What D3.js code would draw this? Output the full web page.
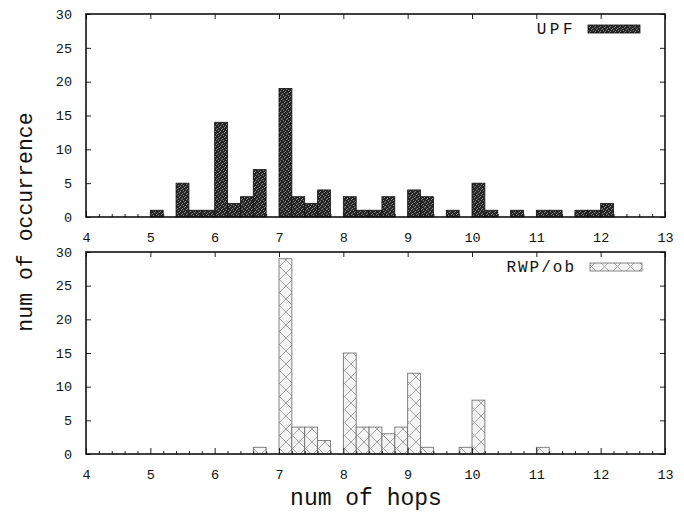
<!DOCTYPE html>
<html>
<head>
<meta charset="utf-8">
<script src="https://cdn.jsdelivr.net/npm/d3@7"></script>
<style>
  body { margin: 0; background: #fff; }
  svg { display: block; }
  .tick text { font-family: "Liberation Mono", "DejaVu Sans Mono", monospace; font-size: 13.5px; fill: #111; }
</style>
</head>
<body>
<div id="chart"></div>
<script>
// bin start (num of hops), bin width 0.2
var binWidth = 0.2;
var upfBins   = [5.0, 5.4, 5.6, 5.8, 6.0, 6.2, 6.4, 6.6, 7.0, 7.2, 7.4, 7.6, 8.0, 8.2, 8.4, 8.6, 9.0, 9.2, 9.6, 10.0, 10.2, 10.6, 11.0, 11.2, 11.6, 11.8, 12.0];
var upfCounts = [1,   5,   1,   1,   14,  2,   3,   7,   19,  3,   2,   4,   3,   1,   1,   3,   4,   3,   1,   5,    1,    1,    1,    1,    1,    1,    2];
var rwpBins   = [6.6, 7.0, 7.2, 7.4, 7.6, 8.0, 8.2, 8.4, 8.6, 8.8, 9.0, 9.2, 9.8, 10.0, 11.0];
var rwpCounts = [1,   29,  4,   4,   2,   15,  4,   4,   3,   4,   12,  1,   1,   8,    1];
var xTicks = [4, 5, 6, 7, 8, 9, 10, 11, 12, 13];
var yTicks = [0, 5, 10, 15, 20, 25, 30];

var width = 684, height = 513;
var left = 86, right = 665;

var svg = d3.select("#chart").append("svg")
    .attr("width", width)
    .attr("height", height);

var defs = svg.append("defs");

// dark speckled fill for UPF
var pDark = defs.append("pattern")
    .attr("id", "dark")
    .attr("patternUnits", "userSpaceOnUse")
    .attr("width", 5).attr("height", 5);
pDark.append("rect").attr("width", 5).attr("height", 5).attr("fill", "#262626");
[[0, 1], [2, 3], [3, 0], [4, 2], [1, 4]].forEach(function(p) {
  pDark.append("rect").attr("x", p[0]).attr("y", p[1]).attr("width", 1).attr("height", 1).attr("fill", "#8a8a8a");
});

// crosshatch fill for RWP/ob
var pHatch = defs.append("pattern")
    .attr("id", "hatch")
    .attr("patternUnits", "userSpaceOnUse")
    .attr("width", 13).attr("height", 13);
pHatch.append("rect").attr("width", 13).attr("height", 13).attr("fill", "#f4f4f4");
pHatch.append("path").attr("d", "M0,0L13,13M13,0L0,13")
    .attr("stroke", "#9a9a9a").attr("stroke-width", 0.9);

var x = d3.scaleLinear().domain([4, 13]).range([left, right]);

var panels = [
  { top: 14, bottom: 217, bins: upfBins, counts: upfCounts, fill: "url(#dark)", stroke: "#111", name: "UPF", legY: 29, spacing: 3.5, sx: 588 },
  { top: 252, bottom: 454, bins: rwpBins, counts: rwpCounts, fill: "url(#hatch)", stroke: "#666", name: "RWP/ob", legY: 267, spacing: 2, sx: 590 }
];

panels.forEach(function(p) {
  var y = d3.scaleLinear().domain([0, 30]).range([p.bottom, p.top]);
  var g = svg.append("g");

  var data = p.bins.map(function(b, i) { return { x0: b, n: p.counts[i] }; });

  g.selectAll(".bar").data(data).enter().append("rect")
      .attr("class", "bar")
      .attr("x", function(d) { return x(d.x0); })
      .attr("width", function(d) { return x(d.x0 + binWidth) - x(d.x0); })
      .attr("y", function(d) { return y(d.n); })
      .attr("height", function(d) { return y(0) - y(d.n); })
      .attr("fill", p.fill)
      .attr("stroke", p.stroke)
      .attr("stroke-width", 0.8);

  // minor x ticks every 0.2
  var minor = d3.range(4, 13.001, 0.2).filter(function(v) { return Math.abs(v - Math.round(v)) > 0.01; });
  g.append("g")
      .attr("transform", "translate(0," + p.bottom + ")")
      .call(d3.axisBottom(x).tickValues(minor).tickSize(-3).tickFormat(""))
      .call(function(a) { a.select(".domain").remove(); });

  // major x ticks + labels
  g.append("g")
      .attr("transform", "translate(0," + p.bottom + ")")
      .call(d3.axisBottom(x).tickValues(xTicks).tickSize(-6).tickPadding(15).tickFormat(d3.format("d")))
      .call(function(a) { a.select(".domain").remove(); });

  g.append("g")
      .attr("transform", "translate(0," + p.top + ")")
      .call(d3.axisTop(x).tickValues(xTicks).tickSize(-5).tickFormat(""))
      .call(function(a) { a.select(".domain").remove(); });

  // y ticks left + right
  g.append("g")
      .attr("transform", "translate(" + left + ",0)")
      .call(d3.axisLeft(y).tickValues(yTicks).tickSize(-5).tickPadding(14))
      .call(function(a) { a.select(".domain").remove(); });

  g.append("g")
      .attr("transform", "translate(" + right + ",0)")
      .call(d3.axisRight(y).tickValues(yTicks).tickSize(-5).tickFormat(""))
      .call(function(a) { a.select(".domain").remove(); });

  g.selectAll(".tick line").attr("stroke", "#222");

  // frame
  g.append("rect")
      .attr("x", left).attr("y", p.top)
      .attr("width", right - left).attr("height", p.bottom - p.top)
      .attr("fill", "none").attr("stroke", "#111").attr("stroke-width", 1.6);

  // legend
  g.append("text")
      .attr("x", 576).attr("y", p.legY + 5)
      .attr("text-anchor", "end")
      .style("font-family", "'Liberation Mono', monospace")
      .style("font-size", "16px")
      .style("letter-spacing", p.spacing + "px")
      .attr("fill", "#111")
      .text(p.name);
  g.append("rect")
      .attr("x", p.sx).attr("y", p.legY - 4)
      .attr("width", 52).attr("height", 8)
      .attr("fill", p.fill)
      .attr("stroke", p.stroke).attr("stroke-width", 0.8);
});

// axis titles
svg.append("text")
    .attr("transform", "translate(32,222) rotate(-90)")
    .attr("text-anchor", "middle")
    .style("font-family", "'Liberation Mono', monospace")
    .style("font-size", "21.5px")
    .attr("fill", "#111")
    .text("num of occurrence");

svg.append("text")
    .attr("x", 366).attr("y", 505)
    .attr("text-anchor", "middle")
    .style("font-family", "'Liberation Mono', monospace")
    .style("font-size", "23px")
    .attr("fill", "#111")
    .text("num of hops");
</script>
</body>
</html>
